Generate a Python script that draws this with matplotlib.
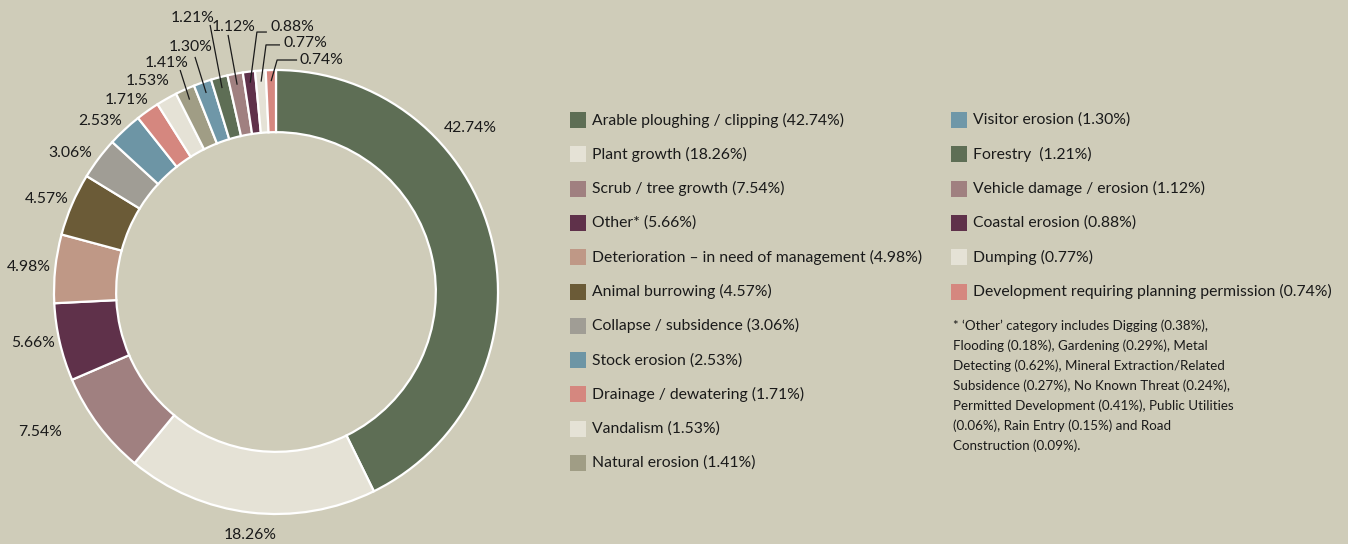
import matplotlib
matplotlib.use("Agg")
import matplotlib.pyplot as plt
from matplotlib.patches import Rectangle
import numpy as np

plt.rcParams['font.family'] = ['Lato', 'DejaVu Sans']

categories = [
    "Arable ploughing / clipping", "Plant growth", "Scrub / tree growth", "Other*",
    "Deterioration \u2013 in need of management", "Animal burrowing", "Collapse / subsidence",
    "Stock erosion", "Drainage / dewatering", "Vandalism", "Natural erosion",
    "Visitor erosion", "Forestry ", "Vehicle damage / erosion", "Coastal erosion",
    "Dumping", "Development requiring planning permission",
]
values = [42.74, 18.26, 7.54, 5.66, 4.98, 4.57, 3.06, 2.53, 1.71, 1.53, 1.41,
          1.30, 1.21, 1.12, 0.88, 0.77, 0.74]
colors = ["#5e6e55", "#e5e2d6", "#a08080", "#5f314a", "#bf9886", "#6b5b37", "#a09d95",
          "#6d95a5", "#d5877f", "#e5e2d6", "#a09d85", "#6f97a8", "#5e6e55", "#a08080",
          "#5f314a", "#e5e2d6", "#d5877f"]
footnote = ("* \u2018Other\u2019 category includes Digging (0.38%),\n"
            "Flooding (0.18%), Gardening (0.29%), Metal\n"
            "Detecting (0.62%), Mineral Extraction/Related\n"
            "Subsidence (0.27%), No Known Threat (0.24%),\n"
            "Permitted Development (0.41%), Public Utilities\n"
            "(0.06%), Rain Entry (0.15%) and Road\n"
            "Construction (0.09%).")

BG = "#cfccb9"
W, H = 1348, 544
fig = plt.figure(figsize=(W / 100, H / 100), dpi=100, facecolor=BG)

# pie axes: centre at (276, 292) px, radius 222 px
cx, cy, R = 276, 292, 222
half = 276
ax = fig.add_axes([(cx - half) / W, (H - cy - half) / H, 2 * half / W, 2 * half / H])
ax.set_facecolor(BG)
wedges, _ = ax.pie(values, colors=colors, startangle=90, counterclock=False,
                   wedgeprops=dict(width=0.28, edgecolor="white", linewidth=1.6))
lim = half / R
ax.set_xlim(-lim, lim)
ax.set_ylim(-lim, lim)
ax.set_aspect("equal")
ax.axis("off")

# label layout (unit-radius coordinates)
label_pos = [(0.874, 0.739), (-0.117, -1.095), (-1.063, -0.631), (-1.095, -0.230),
             (-1.113, 0.113), (-1.032, 0.419), (-0.928, 0.626), (-0.793, 0.770),
             (-0.671, 0.865), (-0.577, 0.950), (-0.491, 1.032), (-0.383, 1.104),
             (-0.374, 1.234), (-0.189, 1.194), (-0.027, 1.194), (0.032, 1.122),
             (0.104, 1.045)]
label_ha = ["center"] * 14 + ["left"] * 3
# leader line start points (None = no leader)
leader = [None] * 10 + [[(-0.432, 1.000)], [(-0.365, 1.059)], [(-0.297, 1.203)],
                        [(-0.216, 1.158)],
                        [(-0.041, 1.171), (-0.086, 1.171)],
                        [(0.018, 1.113), (-0.045, 1.113)],
                        [(0.095, 1.045), (0.005, 1.045)]]

for w, v, pos, ha, ld in zip(wedges, values, label_pos, label_ha, leader):
    ax.text(pos[0], pos[1], f"{v:.2f}%", ha=ha, va="center", fontsize=11.3,
            color="#1a1a1a", clip_on=False)
    if ld is not None:
        mid = np.deg2rad((w.theta1 + w.theta2) / 2)
        end = (0.95 * np.cos(mid), 0.95 * np.sin(mid))
        pts = ld + [end]
        ax.plot([p[0] for p in pts], [p[1] for p in pts], color="#1a1a1a",
                lw=0.9, clip_on=False, solid_capstyle="butt")

# legend overlay in pixel layout
lax = fig.add_axes([0, 0, 1, 1])
lax.set_xlim(0, W)
lax.set_ylim(H, 0)
lax.axis("off")
row0, step = 120, 34.3
for i, (cat, v, c) in enumerate(zip(categories, values, colors)):
    col, row = divmod(i, 11)
    x0 = 570 if col == 0 else 951
    y = row0 + row * step
    lax.add_patch(Rectangle((x0, y - 8), 16, 16, facecolor=c, edgecolor="none"))
    lax.text(x0 + 22, y, f"{cat} ({v:.2f}%)", ha="left", va="center",
             fontsize=11.3, color="#1a1a1a")

lax.text(953, 319, footnote, ha="left", va="top", fontsize=9.6, color="#1a1a1a",
         linespacing=1.72)

fig.savefig("out.png", dpi=100, facecolor=BG)
